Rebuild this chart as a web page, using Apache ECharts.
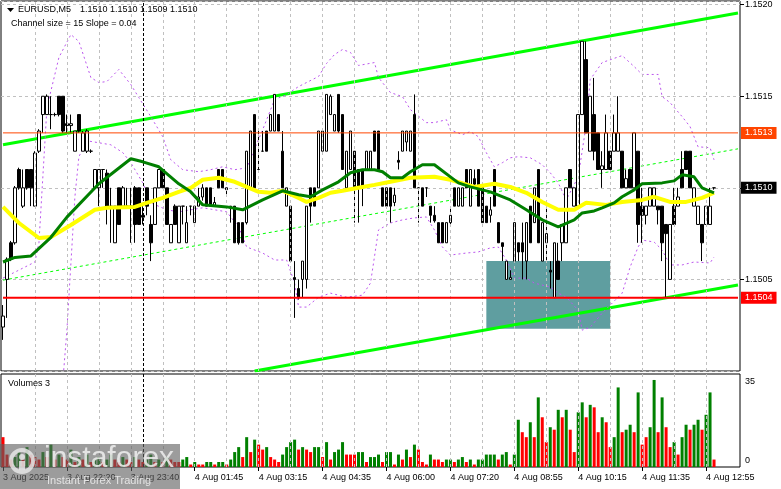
<!DOCTYPE html>
<html><head><meta charset="utf-8">
<script src="https://cdn.jsdelivr.net/npm/echarts@6/dist/echarts.min.js"></script>
<style>html,body{margin:0;padding:0;background:#fff}#c{width:781px;height:489px}</style>
</head><body><div id="c"></div>
<script>
// ---------- DATA ----------
const symbolTitle = 'EURUSD,M5';
const headerQuote = '1.1510 1.1510 1.1509 1.1510';
const channelInfo = 'Channel size = 15 Slope = 0.04';
const volumeTitle = 'Volumes 3';
const tickLabels = ['3 Aug 2025','3 Aug 22:20','3 Aug 23:40','4 Aug 01:45','4 Aug 03:15','4 Aug 04:35','4 Aug 06:00','4 Aug 07:20','4 Aug 08:55','4 Aug 10:15','4 Aug 11:35','4 Aug 12:55'];
const emptyRightBars = 6;
// [open, close, low, high]
const ohlc = [
[1.15024,1.15030,1.15017,1.15036],[1.15050,1.15061,1.15029,1.15062],[1.15070,1.15061,1.15060,1.15071],[1.15070,1.15100,1.15069,1.15101],
[1.15110,1.15100,1.15099,1.15111],[1.15090,1.15100,1.15089,1.15110],[1.15110,1.15100,1.15099,1.15110],[1.15110,1.15100,1.15090,1.15110],
[1.15090,1.15119,1.15090,1.15120],[1.15120,1.15131,1.15119,1.15132],[1.15140,1.15150,1.15130,1.15150],[1.15140,1.15150,1.15140,1.15151],
[1.15140,1.15140,1.15132,1.15150],[1.15140,1.15140,1.15139,1.15141],[1.15150,1.15140,1.15139,1.15150],[1.15150,1.15131,1.15130,1.15150],
[1.15135,1.15134,1.15130,1.15140],[1.15134,1.15135,1.15130,1.15140],[1.15120,1.15131,1.15120,1.15131],[1.15140,1.15131,1.15130,1.15140],
[1.15120,1.15130,1.15120,1.15131],[1.15120,1.15131,1.15119,1.15132],[1.15120,1.15120,1.15119,1.15121],[1.15100,1.15110,1.15100,1.15110],
[1.15100,1.15110,1.15090,1.15110],[1.15110,1.15110,1.15100,1.15110],[1.15108,1.15090,1.15080,1.15110],[1.15090,1.15089,1.15070,1.15100],
[1.15070,1.15090,1.15070,1.15090],[1.15100,1.15080,1.15080,1.15100],[1.15090,1.15100,1.15090,1.15101],[1.15090,1.15090,1.15090,1.15100],
[1.15090,1.15090,1.15070,1.15100],[1.15100,1.15080,1.15070,1.15101],[1.15100,1.15080,1.15080,1.15100],[1.15085,1.15084,1.15080,1.15090],
[1.15100,1.15090,1.15085,1.15100],[1.15080,1.15070,1.15060,1.15085],[1.15080,1.15100,1.15080,1.15100],[1.15100,1.15110,1.15100,1.15110],
[1.15110,1.15100,1.15100,1.15110],[1.15100,1.15080,1.15080,1.15100],[1.15070,1.15080,1.15070,1.15080],[1.15090,1.15080,1.15080,1.15091],
[1.15070,1.15090,1.15070,1.15090],[1.15090,1.15090,1.15080,1.15090],[1.15070,1.15081,1.15070,1.15090],[1.15090,1.15090,1.15085,1.15090],
[1.15081,1.15090,1.15081,1.15090],[1.15090,1.15095,1.15090,1.15100],[1.15095,1.15100,1.15093,1.15102],[1.15100,1.15090,1.15090,1.15100],
[1.15100,1.15090,1.15090,1.15100],[1.15090,1.15092,1.15090,1.15095],[1.15110,1.15100,1.15100,1.15110],[1.15110,1.15100,1.15100,1.15110],
[1.15100,1.15099,1.15095,1.15100],[1.15090,1.15089,1.15081,1.15090],[1.15090,1.15070,1.15070,1.15090],[1.15081,1.15070,1.15069,1.15081],
[1.15081,1.15070,1.15070,1.15081],[1.15081,1.15120,1.15080,1.15120],[1.15100,1.15131,1.15100,1.15131],[1.15140,1.15100,1.15100,1.15140],
[1.15110,1.15110,1.15110,1.15131],[1.15120,1.15120,1.15120,1.15131],[1.15131,1.15120,1.15120,1.15131],[1.15131,1.15140,1.15131,1.15140],
[1.15131,1.15151,1.15131,1.15151],[1.15140,1.15131,1.15131,1.15140],[1.15120,1.15100,1.15100,1.15131],[1.15090,1.15100,1.15090,1.15100],
[1.15090,1.15060,1.15060,1.15090],[1.15051,1.15050,1.15029,1.15060],[1.15045,1.15040,1.15039,1.15050],[1.15050,1.15060,1.15040,1.15060],
[1.15050,1.15090,1.15045,1.15090],[1.15100,1.15090,1.15081,1.15100],[1.15100,1.15090,1.15090,1.15100],[1.15100,1.15131,1.15100,1.15131],
[1.15120,1.15131,1.15120,1.15131],[1.15120,1.15151,1.15120,1.15151],[1.15140,1.15150,1.15140,1.15151],[1.15131,1.15140,1.15131,1.15140],
[1.15151,1.15131,1.15130,1.15151],[1.15140,1.15110,1.15110,1.15140],[1.15100,1.15120,1.15100,1.15120],[1.15110,1.15131,1.15110,1.15131],
[1.15120,1.15100,1.15081,1.15120],[1.15110,1.15100,1.15081,1.15110],[1.15110,1.15100,1.15090,1.15110],[1.15110,1.15120,1.15110,1.15120],
[1.15110,1.15120,1.15110,1.15120],[1.15131,1.15120,1.15120,1.15131],[1.15131,1.15110,1.15110,1.15131],[1.15100,1.15090,1.15090,1.15100],
[1.15100,1.15090,1.15090,1.15100],[1.15100,1.15090,1.15081,1.15100],[1.15092,1.15096,1.15090,1.15100],[1.15115,1.15114,1.15110,1.15120],
[1.15120,1.15131,1.15120,1.15131],[1.15125,1.15131,1.15120,1.15131],[1.15120,1.15131,1.15120,1.15131],[1.15140,1.15100,1.15100,1.15151],
[1.15100,1.15100,1.15081,1.15100],[1.15100,1.15090,1.15090,1.15100],[1.15100,1.15100,1.15095,1.15100],[1.15090,1.15085,1.15081,1.15090],
[1.15085,1.15082,1.15081,1.15090],[1.15081,1.15070,1.15070,1.15081],[1.15081,1.15070,1.15070,1.15081],[1.15070,1.15081,1.15070,1.15081],
[1.15081,1.15085,1.15080,1.15090],[1.15100,1.15090,1.15090,1.15100],[1.15090,1.15100,1.15090,1.15100],[1.15090,1.15100,1.15090,1.15100],
[1.15110,1.15100,1.15100,1.15110],[1.15090,1.15110,1.15090,1.15110],[1.15105,1.15102,1.15100,1.15110],[1.15110,1.15090,1.15090,1.15110],
[1.15100,1.15081,1.15081,1.15100],[1.15090,1.15081,1.15081,1.15090],[1.15085,1.15088,1.15081,1.15095],[1.15110,1.15090,1.15090,1.15110],
[1.15081,1.15070,1.15070,1.15081],[1.15070,1.15068,1.15060,1.15070],[1.15050,1.15060,1.15050,1.15060],[1.15050,1.15051,1.15050,1.15055],
[1.15060,1.15081,1.15060,1.15081],[1.15070,1.15065,1.15060,1.15070],[1.15070,1.15065,1.15050,1.15081],[1.15060,1.15081,1.15050,1.15081],
[1.15090,1.15070,1.15070,1.15090],[1.15081,1.15100,1.15081,1.15100],[1.15110,1.15070,1.15070,1.15110],[1.15060,1.15081,1.15060,1.15081],
[1.15070,1.15075,1.15060,1.15090],[1.15055,1.15054,1.15045,1.15060],[1.15040,1.15070,1.15040,1.15070],[1.15060,1.15050,1.15050,1.15070],
[1.15070,1.15080,1.15060,1.15080],[1.15070,1.15100,1.15070,1.15100],[1.15110,1.15100,1.15100,1.15110],[1.15090,1.15100,1.15090,1.15100],
[1.15090,1.15140,1.15090,1.15140],[1.15140,1.15180,1.15140,1.15180],[1.15170,1.15130,1.15130,1.15180],[1.15120,1.15150,1.15120,1.15150],
[1.15140,1.15120,1.15115,1.15160],[1.15130,1.15110,1.15110,1.15130],[1.15110,1.15112,1.15100,1.15120],[1.15110,1.15130,1.15110,1.15140],
[1.15120,1.15110,1.15110,1.15120],[1.15120,1.15130,1.15120,1.15140],[1.15120,1.15130,1.15120,1.15150],[1.15120,1.15100,1.15100,1.15120],
[1.15100,1.15105,1.15100,1.15110],[1.15110,1.15100,1.15100,1.15110],[1.15100,1.15130,1.15100,1.15130],[1.15120,1.15080,1.15070,1.15120],
[1.15090,1.15085,1.15070,1.15100],[1.15085,1.15090,1.15080,1.15090],[1.15090,1.15100,1.15090,1.15100],[1.15090,1.15100,1.15090,1.15100],
[1.15090,1.15088,1.15080,1.15090],[1.15090,1.15070,1.15060,1.15090],[1.15080,1.15075,1.15040,1.15080],[1.15050,1.15080,1.15050,1.15080],
[1.15090,1.15080,1.15080,1.15100],[1.15090,1.15095,1.15090,1.15100],[1.15110,1.15100,1.15100,1.15120],[1.15120,1.15110,1.15110,1.15120],
[1.15120,1.15100,1.15100,1.15120],[1.15090,1.15100,1.15090,1.15100],[1.15080,1.15090,1.15080,1.15090],[1.15080,1.15070,1.15060,1.15080],
[1.15080,1.15090,1.15080,1.15090],[1.15080,1.15090,1.15080,1.15100],[1.15100,1.15100,1.15099,1.15100]
];
const volumes = [
12,5,3,4,6,3,8,5,4,3, 6,4,9,3,5,4,3,7,2,4, 3,5,2,3,4,2,3,5,3,2, 4,3,2,4,3,2,3,5,2,3,
2,4,3,2,2,3,4,1,2,1, 1,2,2,1,2,2,1,3,6,8, 4,12,6,11,9,7,8,4,3,2, 5,8,10,11,7,8,7,6,8,8,
4,10,3,6,7,10,5,5,5,6, 6,2,4,4,5,2,6,6,1,5, 3,7,4,9,7,2,1,5,3,3, 2,3,3,2,3,4,2,3,1,3,
3,5,5,5,3,5,6,1,5,19, 14,12,18,12,28,20,10,16,15,23, 20,23,15,6,22,26,20,25,24,14,
20,18,8,12,32,14,15,17,14,30, 9,12,16,35,14,28,16,8,10,5, 12,17,15,17,19,15,21,30,3
];
// g = volume up bar (green), r = down bar (red)
const volumeDirs = 'rrrggrgrrr'+'grgrgrrgrg'+'rgrggrggrr'+'grrgrrggrg'+'rgrrrggrgr'+'rggrggrggg'+'rgrgrrgrrr'+'ggggrgrrgg'+'rgrgggrrrg'+'grgggrggrg'+'rgrgrrrgrr'+'rggrggrgrg'+'ggggrggrgg'+'rrgrgrrgrg'+'rgrrggrgrr'+'grrggrggrg'+'rrggrgrrgr'+'ggrggrggr';
// indicator lines as [barIndex, price]
const maGreen = [[0,1.150595],[3,1.15062],[7,1.150628],[12,1.15073],[16,1.15084],[24,1.151022],[32,1.151159],[35,1.151142],[39,1.151115],[44,1.151022],[47,1.150978],[50,1.150907],[56,1.150896],[60,1.15088],[65,1.150934],[70,1.150984],[74,1.150962],[77,1.150951],[80,1.150989],[84,1.151033],[87,1.151082],[90,1.151099],[93,1.151099],[95,1.151088],[97,1.151055],[100,1.151055],[102,1.151088],[105,1.151126],[108,1.151126],[112,1.15106],[114,1.151027],[117,1.151005],[122,1.150978],[127,1.150934],[131,1.15088],[135,1.150825],[139,1.150787],[140,1.150797],[143,1.150825],[145,1.150863],[148,1.150874],[150,1.150891],[153,1.150918],[155,1.150951],[158,1.150989],[160,1.151022],[165,1.151027],[168,1.151038],[170,1.151071],[173,1.15106],[175,1.1510],[178,1.150973]];
const maYellow = [[0,1.150896],[4,1.150808],[9,1.150726],[12,1.150732],[17,1.150797],[23,1.15088],[26,1.150891],[33,1.150896],[36,1.150918],[40,1.150945],[44,1.150978],[47,1.1510],[50,1.151044],[54,1.151055],[58,1.151033],[61,1.151005],[64,1.150978],[67,1.150973],[70,1.150984],[74,1.150945],[76,1.150923],[79,1.150945],[82,1.150973],[85,1.150984],[90,1.151005],[93,1.151016],[97,1.151033],[102,1.151055],[108,1.15106],[112,1.151044],[118,1.151005],[123,1.151022],[127,1.151005],[131,1.150973],[135,1.150923],[139,1.15088],[143,1.15088],[146,1.150918],[151,1.150907],[155,1.150923],[160,1.150934],[163,1.150951],[167,1.150923],[171,1.150923],[175,1.150945],[178,1.150973]];
const bandUpper = [[0,1.150507],[4,1.150551],[8,1.150595],[9,1.1507],[11,1.151438],[14,1.151712],[17,1.151837],[19,1.151799],[22,1.151602],[24,1.151575],[26,1.15158],[29,1.151646],[32,1.151564],[34,1.151493],[37,1.151389],[40,1.151279],[42,1.151153],[45,1.151099],[49,1.151088],[52,1.151099],[55,1.151115],[58,1.151099],[61,1.151109],[65,1.151317],[68,1.151482],[71,1.151509],[74,1.151553],[79,1.151608],[81,1.151679],[83,1.151728],[85,1.151755],[87,1.151739],[89,1.151668],[93,1.151684],[94,1.151602],[97,1.15152],[100,1.151498],[102,1.151427],[106,1.151356],[108,1.151356],[111,1.151372],[112,1.151317],[115,1.15129],[117,1.151307],[119,1.151279],[121,1.151192],[123,1.151115],[125,1.151137],[127,1.151164],[129,1.15117],[132,1.151164],[135,1.151126],[137,1.151082],[139,1.151027],[141,1.150934],[144,1.15106],[146,1.151345],[147,1.151591],[150,1.151684],[155,1.151722],[158,1.151662],[160,1.151619],[164,1.151619],[165,1.151498],[167,1.151465],[170,1.151389],[172,1.151334],[174,1.151224],[177,1.151219],[178,1.151153]];
const bandLower = [[15,1.14995],[16,1.150223],[18,1.150951],[19,1.15117],[21,1.151257],[24,1.151246],[27,1.151235],[30,1.151192],[32,1.151137],[35,1.151027],[37,1.150918],[41,1.15088],[44,1.150869],[47,1.15088],[50,1.150891],[56,1.150869],[59,1.150787],[61,1.150677],[65,1.150644],[68,1.150606],[71,1.150606],[73,1.15048],[74,1.150349],[76,1.150349],[79,1.150403],[82,1.150425],[86,1.150403],[90,1.150414],[92,1.15048],[94,1.15077],[97,1.150808],[100,1.150825],[103,1.150836],[106,1.150841],[108,1.15077],[110,1.150677],[112,1.150633],[116,1.150644],[119,1.15065],[122,1.150672],[124,1.150677],[126,1.150606],[128,1.150507],[131,1.150507],[133,1.15048],[137,1.150458],[139,1.150425],[141,1.150403],[144,1.150332],[145,1.150223],[147,1.150239],[150,1.150316],[155,1.150425],[157,1.150568],[159,1.150677],[160,1.150715],[163,1.150704],[165,1.150661],[167,1.150579],[170,1.150579],[173,1.150595],[177,1.15059],[178,1.150622]];
const channelUpper = [[0,1.151235],[184,1.151955]];
const channelMiddle = [[0,1.150496],[184,1.151213]];
const channelLower = [[63,1.150000],[184,1.150469]];
const levelOrange = 1.1513;
const levelRed = 1.1504;
const lastPrice = 1.1510;
const zoneBox = [[121,1.15060],[152,1.15023]];
const daySeparatorBar = 35;
const priceMin = 1.1500, priceMax = 1.15202, priceStep = 0.0005;
const volumeMax = 37.4;
const volumeLabelValues = [0, 35];

// ---------- CHART ----------
const nSlots = ohlc.length + emptyRightBars;
const cats = Array.from({length: nSlots}, (_, i) => String(i));
const gridBars = [];
for (let b = 8; b < ohlc.length; b += 8) gridBars.push(b);
const FONT = 'Liberation Sans, Arial, sans-serif';
const vGridLines = gridBars.map(b => ({xAxis: b}));
vGridLines.push({xAxis: daySeparatorBar, lineStyle: {color: '#000', type: [3, 2], width: 1}});

function levelSeries(level, color, width, opacity, z) {
  return {type: 'line', xAxisIndex: 0, yAxisIndex: 0, z: z, silent: true, showSymbol: false,
    data: [[0, level], [nSlots - 1, level]],
    lineStyle: {color: color, width: width, opacity: opacity},
    endLabel: {show: true, distance: 3, formatter: level.toFixed(4), color: '#fff', backgroundColor: color === '#c0c0c0' ? '#000' : color,
      padding: [2, 4, 1, 4], fontSize: 9, fontFamily: FONT}};
}

const chart = echarts.init(document.getElementById('c'), null, {renderer: 'canvas'});
chart.setOption({
  animation: false,
  backgroundColor: '#ffffff',
  grid: [
    {left: 1, right: 41, top: 1, height: 370, show: true, borderColor: '#000', borderWidth: 1, backgroundColor: 'transparent'},
    {left: 1, right: 41, top: 374, bottom: 22, show: true, borderColor: '#000', borderWidth: 1, backgroundColor: 'transparent'}
  ],
  xAxis: [
    {gridIndex: 0, type: 'category', data: cats, boundaryGap: true, show: false},
    {gridIndex: 1, type: 'category', data: cats, boundaryGap: true,
      axisLine: {show: false},
      axisTick: {show: true, alignWithLabel: true, length: 4, interval: (i) => i % 16 === 0 && i < ohlc.length, lineStyle: {color: '#000'}},
      axisLabel: {show: true, interval: (i) => i % 16 === 0 && i < ohlc.length, formatter: (v, i) => tickLabels[i / 16] || '',
        align: 'left', margin: 6, fontSize: 9, color: '#000', fontFamily: FONT},
      splitLine: {show: false}}
  ],
  yAxis: [
    {gridIndex: 0, type: 'value', position: 'right', min: priceMin, max: priceMax, interval: priceStep,
      axisLine: {show: false},
      axisTick: {show: true, length: 4, lineStyle: {color: '#000'}},
      axisLabel: {show: true, margin: 5, color: '#000', fontSize: 9, fontFamily: FONT, formatter: v => v.toFixed(4), showMinLabel: false, showMaxLabel: false},
      splitLine: {show: true, lineStyle: {color: '#c0c0c0', type: [3, 3], width: 1}}},
    {gridIndex: 1, type: 'value', position: 'right', min: 0, max: volumeMax, show: false, splitLine: {show: false}},
    {gridIndex: 1, type: 'value', position: 'right', min: -2.66, max: 38.54,
      axisLine: {show: false}, axisTick: {show: false}, splitLine: {show: false},
      axisLabel: {show: true, customValues: volumeLabelValues, margin: 5, color: '#000', fontSize: 9, fontFamily: FONT}}
  ],
  series: [
    {type: 'line', xAxisIndex: 0, yAxisIndex: 0, data: [], z: 1, silent: true,
      markArea: {silent: true, itemStyle: {color: '#5F9EA0', opacity: 1},
        data: [[{coord: zoneBox[0]}, {coord: zoneBox[1]}]]}},
    {type: 'line', xAxisIndex: 0, yAxisIndex: 0, data: [], z: 2, silent: true,
      markLine: {silent: true, symbol: ['none', 'none'], label: {show: false},
        lineStyle: {color: '#c0c0c0', type: [3, 3], width: 1}, data: vGridLines}},
    {type: 'line', xAxisIndex: 1, yAxisIndex: 1, data: [], z: 2, silent: true,
      markLine: {silent: true, symbol: ['none', 'none'], label: {show: false},
        lineStyle: {color: '#c0c0c0', type: [3, 3], width: 1}, data: vGridLines}},
    {name: 'channelUpper', type: 'line', xAxisIndex: 0, yAxisIndex: 0, data: channelUpper, showSymbol: false, z: 3,
      lineStyle: {color: '#00FF00', width: 3}},
    {name: 'channelMiddle', type: 'line', xAxisIndex: 0, yAxisIndex: 0, data: channelMiddle, showSymbol: false, z: 3,
      lineStyle: {color: '#00FF00', width: 1, type: [3, 3]}},
    {name: 'channelLower', type: 'line', xAxisIndex: 0, yAxisIndex: 0, data: channelLower, showSymbol: false, z: 3,
      lineStyle: {color: '#00FF00', width: 3}},
    {name: 'bandUpper', type: 'line', xAxisIndex: 0, yAxisIndex: 0, data: bandUpper, showSymbol: false, z: 3,
      lineStyle: {color: '#BB55EE', width: 1, type: [2, 3]}},
    {name: 'bandLower', type: 'line', xAxisIndex: 0, yAxisIndex: 0, data: bandLower, showSymbol: false, z: 3,
      lineStyle: {color: '#BB55EE', width: 1, type: [2, 3]}},
    {name: 'price', type: 'candlestick', xAxisIndex: 0, yAxisIndex: 0, data: ohlc, barWidth: 3, z: 4,
      itemStyle: {color: '#ffffff', color0: '#000000', borderColor: '#000000', borderColor0: '#000000', borderWidth: 1}},
    {name: 'maYellow', type: 'line', xAxisIndex: 0, yAxisIndex: 0, data: maYellow, showSymbol: false, z: 5,
      lineStyle: {color: '#FFFF00', width: 4}},
    {name: 'maGreen', type: 'line', xAxisIndex: 0, yAxisIndex: 0, data: maGreen, showSymbol: false, z: 6,
      lineStyle: {color: '#007F00', width: 3}},
    levelSeries(lastPrice, '#c0c0c0', 1, 0, 7),
    levelSeries(levelOrange, '#FF4500', 1, 1, 7),
    levelSeries(levelRed, '#FF0000', 2, 1, 7),
    {name: 'volume', type: 'bar', xAxisIndex: 1, yAxisIndex: 1, barWidth: 3, z: 4,
      data: volumes.map((v, i) => ({value: v, itemStyle: {color: volumeDirs[i] === 'g' ? '#008000' : '#FF0000'}}))}
  ],
  graphic: [
    {type: 'polygon', shape: {points: [[7, 8], [14, 8], [10.5, 12]]}, style: {fill: '#000'}, z: 20},
    {type: 'text', x: 18, y: 10, style: {text: symbolTitle, fill: '#000', fontSize: 9, fontFamily: FONT, verticalAlign: 'middle'}, z: 20},
    {type: 'text', x: 80, y: 10, style: {text: headerQuote, fill: '#000', fontSize: 9, fontFamily: FONT, verticalAlign: 'middle'}, z: 20},
    {type: 'text', x: 11, y: 24, style: {text: channelInfo, fill: '#000', fontSize: 9, fontFamily: FONT, verticalAlign: 'middle'}, z: 20},
    {type: 'text', x: 8, y: 384, style: {text: volumeTitle, fill: '#000', fontSize: 9, fontFamily: FONT, verticalAlign: 'middle'}, z: 20},
    {type: 'rect', shape: {x: 0, y: 444, width: 180, height: 45}, style: {fill: 'rgba(96,96,96,0.62)'}, z: 30},
    {type: 'circle', shape: {cx: 22, cy: 461, r: 11}, style: {fill: 'none', stroke: 'rgba(235,235,235,0.8)', lineWidth: 4}, z: 31},
    {type: 'circle', shape: {cx: 22, cy: 457, r: 3}, style: {fill: 'rgba(235,235,235,0.8)'}, z: 31},
    {type: 'rect', shape: {x: 19, y: 461, width: 6, height: 9}, style: {fill: 'rgba(235,235,235,0.8)'}, z: 31},
    {type: 'text', x: 44, y: 459, style: {text: 'instaforex', fill: 'rgba(240,240,240,0.85)', fontSize: 30, fontFamily: FONT, verticalAlign: 'middle'}, z: 31},
    {type: 'text', x: 47, y: 481, style: {text: 'Instant Forex Trading', fill: 'rgba(240,240,240,0.85)', fontSize: 11, fontFamily: FONT, verticalAlign: 'middle'}, z: 31}
  ]
});
</script>
</body></html>
